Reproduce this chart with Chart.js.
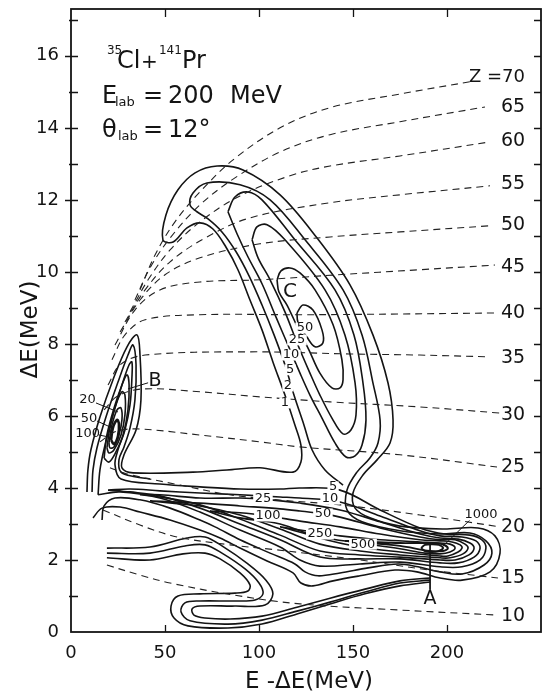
<!DOCTYPE html>
<html>
<head>
<meta charset="utf-8">
<script src="https://cdn.jsdelivr.net/npm/chart.js@4.4.1/dist/chart.umd.min.js"></script>
<style>
  html, body { margin: 0; padding: 0; background: #fff; }
  #wrap { width: 542px; height: 698px; }
</style>
</head>
<body>
<div id="wrap"><canvas id="plot" width="542" height="698"></canvas></div>
<script>
// axis ticks
const xTickValues = [0, 50, 100, 150, 200];
const yTickValues = [0, 2, 4, 6, 8, 10, 12, 14, 16];

// contour lines, points are [E-dE, dE] in MeV
const ridgeLevel1 = [[8.5,3.89],[9.0,4.50],[10.6,5.06],[15.4,5.97],[22.3,7.00],[29.8,7.92],[35.1,8.25],[36.7,7.69],[37.2,6.44],[34.6,5.61],[28.2,4.92],[27.1,4.56],[33.0,4.42],[64.9,4.44],[83.0,4.50],[100.5,4.56],[118.1,4.44],[122.3,4.72],[122.3,5.19],[119.1,5.75],[113.8,6.58],[107.4,7.50],[101.6,8.39],[95.2,9.22],[88.8,10.06],[82.4,10.69],[75.5,11.19],[68.6,11.36],[61.7,11.22],[54.3,10.83],[48.9,10.89],[50.5,11.58],[56.9,12.28],[66.0,12.75],[77.7,12.94],[91.5,12.83],[111.2,12.14],[130.9,10.94],[148.4,9.64],[160.6,8.25],[168.6,6.92],[171.3,5.89],[169.7,5.25],[162.8,4.78],[155.3,4.36],[150.0,3.86],[151.1,3.44],[159.0,3.17],[175.0,2.94],[197.9,2.86],[216.5,2.89],[225.5,2.67],[228.2,2.19],[222.9,1.67],[208.0,1.44],[196.3,1.50],[184.0,1.67],[172.3,1.72],[153.7,1.56],[139.4,1.42],[128.7,1.28],[122.3,1.36],[118.1,1.64],[104.3,1.97],[89.9,2.33],[79.3,2.61],[68.6,2.83],[52.7,3.11],[36.7,3.33],[26.1,3.47],[16.5,3.44],[11.7,3.17]];
const ridgeLevel2 = [[144.7,4.08],[135.1,4.50],[128.2,5.06],[123.9,5.75],[118.6,6.58],[113.8,7.42],[108.0,8.25],[101.6,9.08],[94.7,9.89],[87.8,10.56],[80.3,11.11],[72.9,11.47],[67.0,11.67],[63.3,11.86],[64.9,12.19],[72.3,12.47],[89.9,12.42],[105.9,12.0],[124.5,10.89],[144.7,9.50],[154.8,8.25],[160.6,6.92],[164.4,5.89],[163.3,5.25],[159.0,4.83],[152.1,4.44],[146.8,3.94],[146.8,3.39],[154.8,3.06],[175.0,2.81],[196.3,2.72],[212.2,2.75],[220.7,2.53],[223.9,2.19],[219.7,1.86],[208.0,1.61],[196.3,1.67],[184.6,1.81],[173.9,1.89],[158.0,1.78],[143.1,1.64],[131.4,1.56],[124.5,1.67],[119.1,1.89],[105.9,2.19],[89.9,2.56],[76.6,2.92],[68.6,3.11],[52.7,3.44],[36.7,3.67],[23.4,3.72],[17.6,3.50],[16.5,3.11]];
const bLevel2 = [[11.2,3.89],[11.7,4.50],[13.8,5.11],[18.6,5.97],[25.0,6.94],[30.3,7.69],[33.0,7.97],[34.6,7.42],[34.0,6.44],[31.4,5.67],[28.2,5.14],[25.5,4.78],[26.6,4.44],[34.0,4.31],[42.0,4.25]];
const bLevel10 = [[17.6,4.83],[19.1,5.47],[22.9,6.22],[27.1,6.86],[29.8,7.14],[30.9,6.86],[30.3,6.17],[27.7,5.47],[23.9,5.00],[20.2,4.72],[17.6,4.83]];
const bLevel20 = [[19.1,5.11],[20.7,5.67],[23.9,6.31],[27.1,6.67],[28.7,6.58],[28.7,6.03],[26.6,5.47],[22.9,5.06],[20.2,4.97],[19.1,5.11]];
const bLevel50 = [[20.2,5.25],[21.8,5.75],[24.5,6.17],[26.6,6.22],[27.1,5.89],[25.5,5.47],[22.9,5.14],[20.7,5.11],[20.2,5.25]];
const bLevel100 = [[21.3,5.33],[22.3,5.67],[24.5,5.89],[25.5,5.78],[25.0,5.44],[22.9,5.22],[21.3,5.33]];
const cLevel5 = [[83.5,11.67],[87.2,12.08],[94.1,12.22],[101.6,12.0],[119.1,10.89],[140.4,9.50],[150.5,8.25],[155.3,6.92],[156.9,5.89],[154.8,5.19],[151.1,4.89],[146.3,4.86],[140.4,5.25],[133.5,5.94],[127.1,6.58],[121.8,7.19],[115.4,7.97],[109.0,8.75],[101.6,9.67],[94.1,10.42],[88.3,11.06],[83.5,11.67]];
const cLevel10 = [[96.3,10.89],[98.9,11.25],[104.3,11.31],[113.8,10.89],[135.1,9.50],[145.7,8.25],[151.1,6.92],[151.6,6.03],[148.9,5.61],[144.7,5.50],[138.8,5.94],[132.4,6.58],[127.1,7.19],[120.7,7.97],[113.8,8.89],[105.9,9.78],[99.5,10.39],[96.3,10.89]];
const cLevel25 = [[109.6,9.78],[111.7,10.03],[116.5,10.11],[121.8,9.97],[129.8,9.50],[139.4,8.53],[144.1,7.56],[144.7,7.0],[143.1,6.78],[138.8,6.78],[132.4,7.19],[126.6,7.83],[120.7,8.44],[114.9,9.08],[110.6,9.44],[109.6,9.78]];
const cLevel50 = [[120.2,8.86],[123.4,9.08],[128.7,8.94],[133.5,8.39],[134.0,8.03],[129.8,7.92],[125.5,8.19],[120.7,8.61],[120.2,8.86]];
const bandLevel5 = [[14.4,3.81],[15.4,4.50],[18.1,5.19],[22.3,6.03],[27.1,6.86],[30.9,7.42],[32.4,7.50],[32.4,7.06],[31.4,6.31],[28.7,5.61],[25.0,5.06],[23.4,4.64],[26.6,4.25],[47.3,4.11],[68.6,4.03],[89.9,3.97],[111.2,3.97],[121.8,4.00],[143.1,3.94],[164.4,3.39],[185.6,2.89],[198.9,2.72],[212.2,2.69],[218.6,2.56],[220.7,2.33],[217.6,2.00],[208.0,1.81],[196.3,1.81],[175.0,1.94],[153.7,1.89],[132.4,1.83],[121.8,2.00],[111.2,2.36],[89.9,2.83],[68.6,3.33],[47.3,3.72],[26.1,3.89],[14.4,3.81]];
const bandLevel10 = [[19.7,3.94],[31.4,3.97],[47.3,3.92],[68.6,3.86],[89.9,3.81],[111.2,3.75],[121.8,3.72],[143.1,3.61],[164.4,3.22],[185.6,2.81],[196.3,2.67],[208.0,2.64],[215.4,2.53],[217.6,2.33],[214.4,2.08],[205.9,1.92],[196.3,1.92],[175.0,2.03],[153.7,2.03],[132.4,2.08],[111.2,2.56],[89.9,3.0],[68.6,3.44],[47.3,3.78],[31.4,3.89],[19.7,3.94]];
const bandLevel25 = [[36.7,3.81],[47.3,3.81],[68.6,3.72],[89.9,3.72],[102.1,3.69],[121.8,3.58],[143.1,3.39],[164.4,3.06],[185.6,2.72],[196.3,2.61],[205.9,2.58],[212.2,2.47],[214.4,2.33],[211.7,2.14],[204.3,2.0],[196.3,2.0],[175.0,2.08],[153.7,2.14],[132.4,2.25],[111.2,2.69],[89.9,3.14],[68.6,3.53],[47.3,3.75],[36.7,3.81]];
const bandLevel50 = [[42.0,3.64],[68.6,3.58],[89.9,3.50],[111.2,3.42],[121.8,3.36],[134.0,3.28],[143.1,3.19],[164.4,2.89],[185.6,2.64],[196.3,2.56],[204.3,2.56],[209.6,2.44],[211.2,2.33],[208.5,2.17],[201.6,2.06],[196.3,2.06],[175.0,2.14],[153.7,2.25],[132.4,2.44],[111.2,2.86],[89.9,3.25],[68.6,3.50],[52.7,3.58],[42.0,3.64]];
const bandLevel100 = [[73.9,3.36],[89.9,3.31],[104.8,3.22],[121.8,3.08],[143.1,2.92],[164.4,2.72],[185.6,2.56],[196.3,2.53],[202.7,2.50],[207.0,2.42],[208.0,2.33],[205.9,2.22],[200.5,2.11],[196.3,2.11],[175.0,2.22],[153.7,2.36],[132.4,2.61],[111.2,3.0],[89.9,3.17],[73.9,3.36]];
const bandLevel250 = [[111.2,2.92],[132.4,2.75],[143.1,2.67],[164.4,2.56],[185.6,2.50],[196.3,2.47],[201.6,2.44],[204.3,2.33],[201.6,2.22],[196.3,2.17],[188.3,2.19],[175.0,2.31],[153.7,2.47],[132.4,2.64],[111.2,2.92]];
const bandLevel500 = [[145.7,2.53],[159.0,2.50],[175.0,2.47],[191.0,2.47],[197.3,2.44],[200.5,2.33],[197.9,2.25],[191.0,2.25],[175.0,2.39],[159.0,2.47],[145.7,2.53]];
const peakLevel1000 = [[186.2,2.33],[188.3,2.42],[192.0,2.44],[195.7,2.42],[197.9,2.33],[195.7,2.25],[192.0,2.22],[188.3,2.25],[186.2,2.33]];
const lowArc1 = [[19.1,2.33],[42.0,2.36],[61.7,2.61],[71.3,2.64],[80.3,2.39],[94.1,1.89],[103.7,1.44],[107.4,1.06],[103.2,0.75],[87.2,0.72],[68.6,0.72],[64.4,0.64],[65.4,0.47],[71.3,0.39],[84.6,0.36],[101.6,0.44],[120.2,0.69],[137.8,0.94],[156.4,1.19],[175.0,1.42],[191.0,1.50]];
const lowArc2 = [[19.1,2.19],[42.0,2.19],[60.6,2.39],[71.3,2.42],[80.3,2.19],[92.6,1.75],[100.0,1.36],[102.1,1.06],[97.9,0.89],[87.2,0.86],[68.6,0.86],[60.6,0.81],[58.5,0.56],[63.3,0.31],[83.5,0.22],[101.6,0.33],[120.2,0.58],[137.8,0.83],[156.4,1.11],[175.0,1.36],[191.0,1.44]];
const lowArc3 = [[19.1,2.06],[42.0,2.00],[59.6,2.17],[71.3,2.19],[79.3,2.03],[89.9,1.64],[95.2,1.31],[94.1,1.14],[87.2,1.08],[68.6,1.06],[56.9,1.0],[53.2,0.72],[54.8,0.39],[62.2,0.17],[83.5,0.11],[101.6,0.22],[120.2,0.50],[137.8,0.78],[156.4,1.06],[175.0,1.28],[191.0,1.39]];

// lines of constant Z (dashed)
const zValues = [70, 65, 60, 55, 50, 45, 40, 35, 30, 25, 20, 15, 10];
const zLabelY = [15.39, 14.58, 13.64, 12.44, 11.31, 10.14, 8.86, 7.61, 6.03, 4.58, 2.92, 1.50, 0.44];
const z70 = [[36.7,9.50],[44.7,10.47],[55.3,11.39],[68.6,12.22],[86.2,13.11],[111.2,14.0],[137.8,14.56],[175.0,14.94],[212.2,15.28]];
const z65 = [[34.0,9.22],[42.0,10.11],[52.7,10.94],[68.6,11.86],[87.2,12.61],[111.2,13.33],[137.8,13.81],[175.0,14.17],[220.2,14.58]];
const z60 = [[31.4,8.89],[41.0,9.78],[52.7,10.61],[68.6,11.39],[89.9,12.11],[116.5,12.67],[137.8,12.94],[175.0,13.22],[222.9,13.61]];
const z55 = [[28.7,8.61],[39.4,9.50],[52.7,10.28],[71.3,10.94],[95.2,11.50],[137.8,11.92],[175.0,12.14],[222.9,12.39]];
const z50 = [[26.1,8.33],[36.7,9.22],[50.0,9.92],[68.6,10.39],[100.5,10.78],[137.8,10.97],[175.0,11.11],[222.9,11.28]];
const z45 = [[23.4,7.97],[34.0,8.94],[47.3,9.50],[68.6,9.72],[100.5,9.78],[142.0,9.92],[185.6,10.06],[225.5,10.19]];
const z40 = [[21.8,7.56],[28.7,8.25],[39.4,8.67],[68.6,8.81],[121.8,8.81],[175.0,8.83],[226.6,8.86]];
const z35 = [[19.7,6.86],[26.1,7.42],[39.4,7.69],[95.2,7.78],[148.4,7.72],[185.6,7.69],[222.9,7.64]];
const z30 = [[17.6,6.17],[25.0,6.56],[38.3,6.75],[68.6,6.67],[100.5,6.53],[137.8,6.39],[185.6,6.25],[228.2,6.08]];
const z25 = [[15.4,5.28],[23.4,5.56],[35.1,5.64],[68.6,5.47],[100.5,5.28],[121.8,5.14],[175.0,4.92],[226.6,4.58]];
const z20 = [[20.7,4.56],[29.8,4.39],[58.0,4.08],[84.6,3.81],[109.6,3.67],[143.1,3.53],[185.6,3.25],[228.2,2.92]];
const z15 = [[17.0,3.39],[36.7,2.97],[56.4,2.64],[84.6,2.42],[109.6,2.28],[153.7,2.0],[191.0,1.72],[227.1,1.50]];
const z10 = [[19.1,1.86],[36.7,1.58],[52.7,1.36],[86.2,1.03],[121.8,0.78],[175.0,0.61],[226.6,0.47]];
const zLines = [z70, z65, z60, z55, z50, z45, z40, z35, z30, z25, z20, z15, z10];

// pointer lines from labels to the peaks
const leaderLines = [
  [[30.3,6.75],[41.0,6.92]],
  [[13.3,6.36],[25.0,6.11]],
  [[13.8,5.86],[21.8,5.67]],
  [[14.9,5.47],[19.7,5.42]],
  [[212.2,3.11],[197.4,2.36]],
  [[191.0,2.42],[191.0,1.17]]
];

// [text, x, y, font size, white box behind]
const contourLabels = [
  ['C', 116.5, 9.44, 20, false], ['50', 124.5, 8.44, 13, true], ['25', 120.2, 8.11, 13, true],
  ['10', 117.0, 7.69, 13, true], ['5', 116.5, 7.28, 13, true], ['2', 115.4, 6.83, 13, true], ['1', 113.8, 6.36, 13, true],
  ['B', 44.7, 6.97, 19, false], ['20', 8.8, 6.44, 13, false], ['50', 9.6, 5.92, 13, false], ['100', 8.8, 5.50, 13, false],
  ['5', 139.4, 4.03, 13, true], ['10', 137.8, 3.69, 13, true], ['25', 102.1, 3.69, 13, true], ['100', 104.8, 3.22, 13, true],
  ['50', 134.0, 3.28, 13, true], ['250', 132.4, 2.72, 13, true], ['500', 155.3, 2.44, 13, true], ['1000', 218.1, 3.25, 13, true],
  ['A', 191.0, 0.92, 19, false]
];

// reaction header, [text, size, x, baseline y]
const headerRuns = [
  ['35', 12, 19.1, 16.06], ['Cl', 24, 24.5, 15.67], ['+', 20, 37.2, 15.67], ['141', 12, 46.8, 16.06], ['Pr', 24, 59.0, 15.67],
  ['E', 24, 16.5, 14.69], ['lab', 13, 23.4, 14.61], ['=', 24, 38.3, 14.69], ['200', 24, 51.6, 14.69], ['MeV', 24, 84.6, 14.69],
  ['\u03b8', 24, 16.5, 13.75], ['lab', 13, 25.0, 13.67], ['=', 24, 38.3, 13.75], ['12\u00b0', 24, 51.6, 13.75]
];

const FONT = '"DejaVu Sans", sans-serif';
const INK = '#141414';

function toXY(pts) { return pts.map(p => ({ x: p[0], y: p[1] })); }
function contour(pts, w) {
  return { data: toXY(pts), showLine: true, borderColor: INK, borderWidth: w || 1.6, pointRadius: 0, tension: 0.35, fill: false };
}

const datasets = [];
zLines.forEach(l => datasets.push({ data: toXY(l), showLine: true, borderColor: '#222', borderWidth: 1.1, borderDash: [7, 5], pointRadius: 0, tension: 0.35, fill: false }));
[ridgeLevel1, ridgeLevel2, bLevel2, cLevel5, cLevel10, cLevel25, cLevel50,
 bandLevel5, bandLevel10, bandLevel25, bandLevel50, bandLevel100, bandLevel250,
 lowArc1, lowArc2, lowArc3, bLevel10, bLevel20, bLevel50].forEach(l => datasets.push(contour(l)));
datasets.push(contour(bandLevel500, 1.9));
datasets.push(contour(peakLevel1000, 2.0));
datasets.push(contour(bLevel100, 2.6));
leaderLines.forEach(l => datasets.push({ data: toXY(l), showLine: true, borderColor: INK, borderWidth: 1, pointRadius: 0, tension: 0, fill: false }));

function drawText(ctx, text, px, py, size, align, box) {
  ctx.font = size + 'px ' + FONT;
  ctx.textAlign = align;
  ctx.textBaseline = 'middle';
  if (box) {
    const w = ctx.measureText(text).width;
    const x0 = align === 'center' ? px - w / 2 : (align === 'right' ? px - w : px);
    ctx.fillStyle = '#fff';
    ctx.fillRect(x0 - 1.5, py - size * 0.42, w + 3, size * 0.84);
  }
  ctx.fillStyle = INK;
  ctx.fillText(text, px, py);
}

const decor = {
  id: 'decor',
  afterDraw(chart) {
    const { ctx, chartArea: a, scales } = chart;
    const X = v => scales.x.getPixelForValue(v);
    const Y = v => scales.y.getPixelForValue(v);
    ctx.save();

    // frame and inward ticks
    ctx.strokeStyle = INK;
    ctx.lineWidth = 1.8;
    ctx.strokeRect(a.left, a.top, a.right - a.left, a.bottom - a.top);
    ctx.lineWidth = 1.3;
    ctx.beginPath();
    for (let v = 1; v <= 17; v++) {
      const py = Math.round(Y(v)) + 0.5;
      ctx.moveTo(a.left - (v % 2 === 0 ? 6 : 2), py); ctx.lineTo(a.left + 7, py);
      ctx.moveTo(a.right - 7, py); ctx.lineTo(a.right, py);
    }
    xTickValues.slice(1).forEach(v => {
      const px = Math.round(X(v)) + 0.5;
      ctx.moveTo(px, a.bottom); ctx.lineTo(px, a.bottom - 7);
      ctx.moveTo(px, a.top); ctx.lineTo(px, a.top + 8);
    });
    ctx.stroke();

    // contour and peak labels
    contourLabels.forEach(([t, x, y, s, box]) => drawText(ctx, t, X(x), Y(y), s, 'center', box));

    // Z labels on the right
    zValues.forEach((z, i) => {
      if (i === 0) drawText(ctx, 'Z =' + z, X(241.5), Y(zLabelY[i]), 18, 'right', false);
      else drawText(ctx, String(z), X(235.1), Y(zLabelY[i]), 19, 'center', false);
    });

    // header
    ctx.fillStyle = INK;
    ctx.textAlign = 'left';
    ctx.textBaseline = 'alphabetic';
    headerRuns.forEach(([t, s, x, y]) => {
      ctx.font = s + 'px ' + FONT;
      ctx.fillText(t, X(x), Y(y));
    });

    // axis titles
    ctx.font = '23px ' + FONT;
    ctx.textAlign = 'center';
    ctx.fillText('E -\u0394E(MeV)', (a.left + a.right) / 2 + 3, a.bottom + 56);
    ctx.translate(a.left - 40, Y(8.4));
    ctx.rotate(-Math.PI / 2);
    ctx.textBaseline = 'middle';
    ctx.fillText('\u0394E(MeV)', 0, 0);
    ctx.restore();
  }
};

new Chart(document.getElementById('plot'), {
  type: 'scatter',
  data: { datasets },
  options: {
    responsive: false,
    animation: false,
    devicePixelRatio: 1,
    events: [],
    layout: { padding: { top: 9, right: 1, left: 0, bottom: 0 } },
    plugins: { legend: { display: false }, tooltip: { enabled: false } },
    scales: {
      x: {
        type: 'linear', min: 0, max: 250,
        grid: { display: false, drawTicks: false }, border: { display: false },
        ticks: { color: INK, font: { family: FONT, size: 18 }, padding: 11, maxRotation: 0 },
        afterBuildTicks: s => { s.ticks = xTickValues.map(v => ({ value: v })); },
        afterFit: s => { s.height = 66; s.paddingLeft = 0; s.paddingRight = 0; }
      },
      y: {
        type: 'linear', min: 0, max: 17.3,
        grid: { display: false, drawTicks: false }, border: { display: false },
        ticks: { color: INK, font: { family: FONT, size: 18 }, padding: 12 },
        afterBuildTicks: s => { s.ticks = yTickValues.map(v => ({ value: v })); },
        afterFit: s => { s.width = 71; s.paddingTop = 0; s.paddingBottom = 0; }
      }
    }
  },
  plugins: [decor]
});
</script>
</body>
</html>
